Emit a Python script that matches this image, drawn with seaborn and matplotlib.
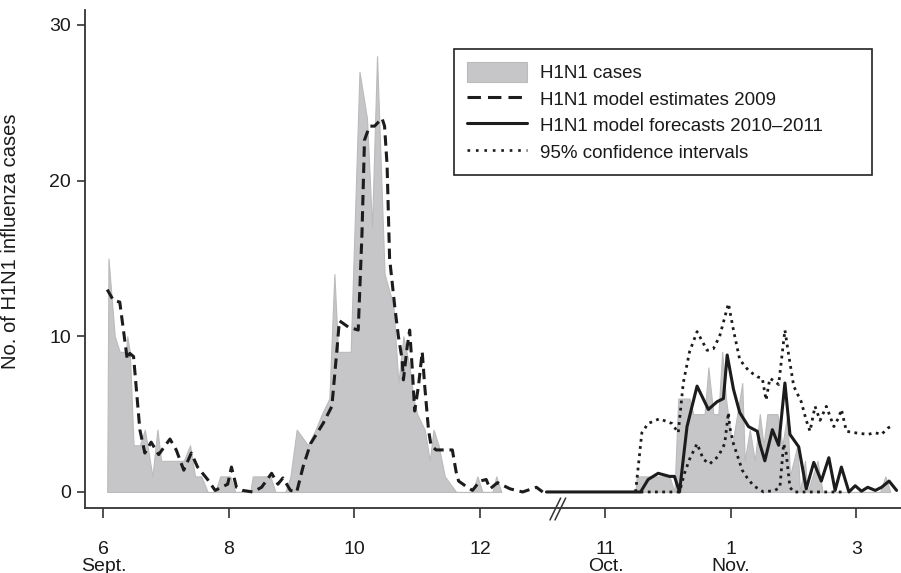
import matplotlib
matplotlib.use("Agg")
import matplotlib.pyplot as plt
import matplotlib.transforms as mtransforms
from matplotlib.patches import Patch
from matplotlib.lines import Line2D
import seaborn as sns

# x positions are in tick units: 0 = "6 Sept.", 1 = "8", ... 6 = "3" (Nov.)
tick_pos = [0, 1, 2, 3, 4, 5, 6]
tick_labels = ["6\nSept.", "8", "10", "12", "11\nOct.", "1\nNov.", "3"]

# observed H1N1 cases, 2009 season
cases09_x = [0.03, 0.04, 0.09, 0.13, 0.18, 0.19, 0.21, 0.24, 0.29, 0.33, 0.35, 0.39,
             0.43, 0.46, 0.58, 0.64, 0.69, 0.73, 0.78, 0.83, 0.89, 0.93, 1.01, 1.05,
             1.17, 1.19, 1.33, 1.37, 1.45, 1.49, 1.54, 1.63, 1.69, 1.74, 1.80, 1.84,
             1.87, 1.93, 1.97, 2.04, 2.10, 2.14, 2.18, 2.24, 2.31, 2.35, 2.39, 2.44,
             2.47, 2.50, 2.56, 2.60, 2.63, 2.67, 2.72, 2.81, 2.94, 2.98, 3.02, 3.10,
             3.13, 3.17]
cases09_y = [0, 15, 10, 9, 9, 10, 9, 3, 3, 4, 3, 1,
             4, 2, 2, 2, 3, 1, 1, 0, 0, 1, 1, 0,
             0, 1, 1, 0, 0, 1, 4, 3, 4, 5, 6, 14,
             9, 9, 9, 27, 24, 17, 28, 14, 12, 7, 10, 8,
             6, 5, 4, 2, 4, 3, 1, 0, 0, 1, 0, 0,
             1, 0]

# observed H1N1 cases, 2010-2011 season
cases10_x = [4.24, 4.25, 4.51, 4.55, 4.58, 4.67, 4.70, 4.79, 4.82, 4.86, 4.90, 4.93,
             4.96, 5.01, 5.09, 5.11, 5.15, 5.19, 5.23, 5.26, 5.29, 5.37, 5.41, 5.45,
             5.47, 5.53, 5.55, 5.59, 5.61, 5.69, 5.73, 6.19, 6.23, 6.27]
cases10_y = [0, 1, 1, 0, 6, 6, 5, 5, 8, 5, 5, 9,
             6, 3, 7, 2, 4, 2, 5, 3, 5, 5, 3, 5,
             1, 3, 0, 2, 0, 2, 0, 0, 1, 0]

# model estimates 2009
est_x = [0.03, 0.08, 0.13, 0.19, 0.21, 0.24, 0.29, 0.33, 0.38, 0.44, 0.53, 0.58,
         0.64, 0.70, 0.75, 0.83, 0.89, 0.94, 0.99, 1.02, 1.06, 1.11, 1.19, 1.26,
         1.34, 1.39, 1.43, 1.49, 1.54, 1.59, 1.65, 1.75, 1.82, 1.86, 1.88, 1.95,
         2.03, 2.06, 2.08, 2.12, 2.16, 2.22, 2.24, 2.26, 2.28, 2.32, 2.35, 2.38,
         2.39, 2.42, 2.44, 2.46, 2.48, 2.51, 2.54, 2.56, 2.59, 2.61, 2.65, 2.78,
         2.81, 2.83, 2.90, 2.94, 3.00, 3.05, 3.08, 3.14, 3.24, 3.34, 3.45, 3.50]
est_y = [13.0, 12.3, 12.2, 8.5, 8.9, 8.7, 4.0, 2.5, 3.2, 2.4, 3.4, 2.7,
         1.4, 2.5, 1.6, 0.8, 0.1, 0.3, 0.5, 1.6, 0.3, 0.1, 0.0, 0.3,
         1.2, 0.5, 0.9, 0.1, 0.0, 1.6, 3.1, 4.4, 5.5, 9.1, 11.0, 10.6,
         10.4, 16.6, 22.6, 23.5, 23.5, 24.0, 23.5, 21.0, 15.0, 12.0, 10.0, 8.5,
         7.2, 9.3, 10.4, 8.0, 5.2, 6.8, 9.0, 6.8, 4.0, 3.0, 2.7, 2.7,
         1.3, 0.7, 0.3, 0.1, 0.7, 0.8, 0.2, 0.6, 0.2, 0.0, 0.3, 0.0]

# model forecasts 2010-2011
fc_x = [3.53, 4.28, 4.34, 4.42, 4.51, 4.55, 4.59, 4.65, 4.73, 4.82, 4.89, 4.94,
        4.97, 5.02, 5.07, 5.14, 5.21, 5.23, 5.27, 5.33, 5.38, 5.43, 5.47, 5.54,
        5.60, 5.66, 5.72, 5.78, 5.83, 5.88, 5.94, 5.99, 6.04, 6.09, 6.15, 6.20,
        6.26, 6.32]
fc_y = [0.0, 0.0, 0.8, 1.2, 1.0, 1.0, 0.0, 4.2, 6.8, 5.3, 5.8, 6.0,
        8.8, 6.6, 5.1, 4.2, 3.9, 3.1, 2.0, 4.0, 3.0, 7.0, 3.7, 2.9,
        0.2, 1.9, 0.7, 2.2, 0.1, 1.6, 0.0, 0.4, 0.05, 0.3, 0.1, 0.3,
        0.7, 0.1]

# 95% confidence intervals
ci_hi_x = [4.24, 4.29, 4.34, 4.43, 4.53, 4.58, 4.62, 4.67, 4.73, 4.81, 4.86, 4.91,
           4.98, 5.02, 5.07, 5.14, 5.21, 5.25, 5.28, 5.31, 5.35, 5.38, 5.40, 5.43,
           5.46, 5.50, 5.56, 5.60, 5.63, 5.67, 5.71, 5.76, 5.82, 5.86, 5.88, 5.92,
           5.99, 6.09, 6.15, 6.20, 6.25, 6.29]
ci_hi_y = [0.0, 3.8, 4.4, 4.7, 4.4, 3.8, 7.0, 9.0, 10.3, 9.1, 9.2, 10.0,
           12.1, 10.4, 8.5, 7.8, 7.4, 7.3, 5.9, 7.3, 7.1, 6.9, 8.3, 10.4,
           8.8, 6.8, 5.8, 4.6, 3.9, 5.5, 4.6, 5.5, 4.2, 4.8, 5.3, 3.9,
           3.8, 3.7, 3.8, 3.7, 4.1, 4.3]
ci_lo_x = [4.28, 4.59, 4.63, 4.67, 4.73, 4.78, 4.83, 4.90, 4.95, 4.98, 4.99, 5.02,
           5.09, 5.13, 5.18, 5.26, 5.35, 5.39, 5.42, 5.44, 5.47, 5.50, 5.91]
ci_lo_y = [0.0, 0.0, 1.2, 2.1, 3.1, 2.1, 1.8, 2.3, 3.1, 5.1, 4.2, 3.1,
           1.4, 0.9, 0.4, 0.0, 0.1, 0.3, 3.1, 2.5, 0.3, 0.0, 0.0]

labels = ["H1N1 cases", "H1N1 model estimates 2009",
          "H1N1 model forecasts 2010\u20132011", "95% confidence intervals"]

gray = "#c6c6c8"
gray_edge = "#bbbbbd"
ink = "#1c1c1c"

sns.set_theme(style="ticks")
plt.rcParams["font.family"] = ["Liberation Sans", "DejaVu Sans"]

fig = plt.figure(figsize=(9.01, 5.73), dpi=100)
ax = fig.add_axes([85 / 901, 65 / 573, 816 / 901, 498 / 573])

# shaded case counts
ax.fill_between(cases09_x, cases09_y, color=gray, edgecolor=gray_edge, lw=0.8, zorder=1)
ax.fill_between(cases10_x, cases10_y, color=gray, edgecolor=gray_edge, lw=0.8, zorder=1)

# model lines
sns.lineplot(x=est_x, y=est_y, ax=ax, color=ink, lw=2.2, linestyle=(0, (3.4, 1.9)),
             sort=False, estimator=None, zorder=3)
sns.lineplot(x=fc_x, y=fc_y, ax=ax, color=ink, lw=2.2, sort=False, estimator=None, zorder=3)
sns.lineplot(x=ci_hi_x, y=ci_hi_y, ax=ax, color=ink, lw=2.0, linestyle=(0, (1, 1.6)),
             sort=False, estimator=None, zorder=2)
sns.lineplot(x=ci_lo_x, y=ci_lo_y, ax=ax, color=ink, lw=2.0, linestyle=(0, (1, 1.6)),
             sort=False, estimator=None, zorder=2)

ax.set_xlim(-0.147, 6.355)
ax.set_ylim(-1.03, 30.96)
ax.set_xticks(tick_pos)
ax.set_xticklabels(tick_labels, linespacing=0.95)
ax.set_yticks([0, 10, 20, 30])
ax.tick_params(axis="x", length=7, width=1.2, pad=17, labelsize=14, colors="#333",
               labelcolor="#1a1a1a")
ax.tick_params(axis="y", length=6, width=1.2, pad=4, labelsize=14, colors="#333",
               labelcolor="#1a1a1a")
for side in ["top", "right"]:
    ax.spines[side].set_visible(False)
for side in ["left", "bottom"]:
    ax.spines[side].set_color("#333")
    ax.spines[side].set_linewidth(1.3)

ax.set_ylabel("No. of H1N1 influenza cases", fontsize=14.5, color="#1a1a1a")
ax.yaxis.set_label_coords(-0.08, 0.536)

# axis break marks
trans = mtransforms.blended_transform_factory(ax.transData, ax.transAxes)
for x0 in [3.558, 3.598]:
    ax.plot([x0, x0 + 0.085], [-0.024, 0.020], transform=trans, color="#333",
            lw=1.1, clip_on=False, zorder=5)

handles = [
    Patch(facecolor=gray, edgecolor=gray_edge, lw=0.8),
    Line2D([], [], color=ink, lw=2.2, linestyle=(0, (4.4, 2.3))),
    Line2D([], [], color=ink, lw=2.2),
    Line2D([], [], color=ink, lw=1.9, linestyle=(0, (1, 2.2))),
]
leg = ax.legend(handles, labels, loc="upper left",
                bbox_to_anchor=(0.452, 0.675, 0.512, 0.247), mode="expand",
                fontsize=13.5, frameon=True, fancybox=False, framealpha=1,
                edgecolor="#222", borderpad=0.7, handlelength=3.2, handleheight=1.3,
                handletextpad=0.7, labelspacing=0.32, borderaxespad=0)
leg.get_frame().set_linewidth(1.2)
for t in leg.get_texts():
    t.set_color("#1a1a1a")

fig.savefig("out.png", dpi=100)
